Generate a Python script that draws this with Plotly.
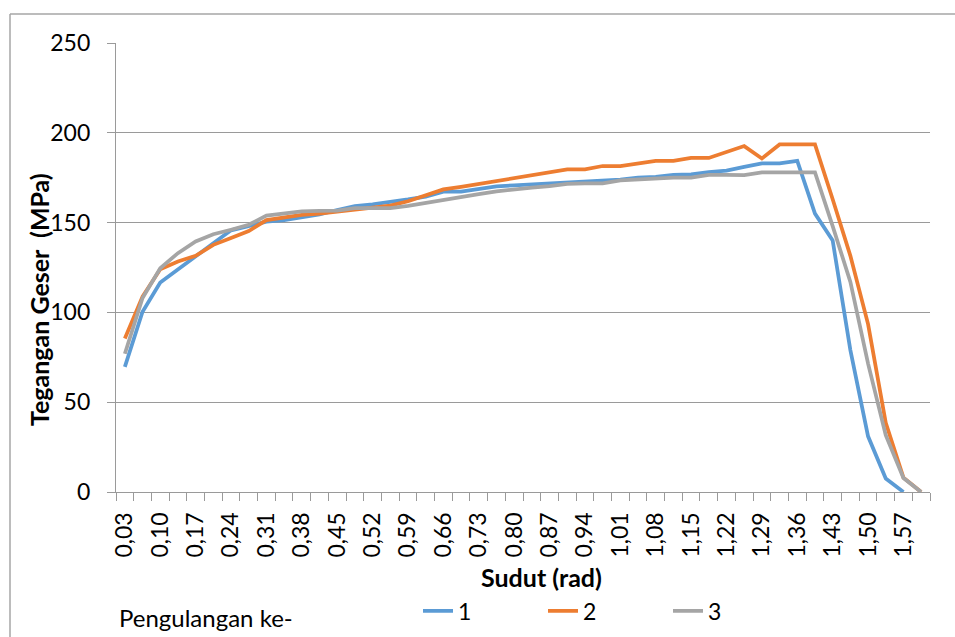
import plotly.graph_objects as go

categories = ["0,03","0,07","0,10","0,14","0,17","0,21","0,24","0,28","0,31","0,35",
              "0,38","0,42","0,45","0,49","0,52","0,56","0,59","0,63","0,66","0,70",
              "0,73","0,77","0,80","0,84","0,87","0,91","0,94","0,98","1,01","1,05",
              "1,08","1,12","1,15","1,19","1,22","1,26","1,29","1,33","1,36","1,40",
              "1,43","1,47","1,50","1,54","1,57","1,61"]

series_1 = [69.7, 100.4, 116.6, 123.7, 131.0, 138.5, 145.7, 148.3, 150.5, 151.4,
            153.0, 154.6, 157.0, 159.2, 160.2, 161.4, 162.9, 164.5, 167.2, 167.2,
            168.8, 170.2, 170.7, 171.2, 171.7, 172.2, 172.6, 173.5, 174.0, 175.1,
            175.5, 176.6, 176.8, 178.1, 179.0, 181.0, 183.0, 183.0, 184.4, 155.0,
            140.0, 79.0, 31.0, 7.5, 0.0, None]
series_2 = [85.5, 108.8, 124.0, 128.3, 131.5, 137.6, 141.4, 145.3, 151.4, 152.8,
            154.3, 155.0, 156.0, 157.2, 158.2, 159.5, 161.9, 165.2, 168.5, 169.9,
            171.5, 173.1, 174.8, 176.3, 178.0, 179.6, 179.6, 181.5, 181.5, 183.0,
            184.4, 184.4, 186.0, 186.0, 189.2, 192.6, 185.7, 193.5, 193.5, 193.5,
            163.0, 131.5, 93.5, 38.5, 8.0, 0.0]
series_3 = [77.0, 108.0, 124.6, 133.0, 139.5, 143.5, 146.0, 148.8, 153.9, 155.3,
            156.3, 156.5, 156.7, 158.0, 158.0, 158.0, 159.3, 160.8, 162.6, 164.1,
            165.8, 167.4, 168.6, 169.5, 170.3, 171.6, 171.8, 171.8, 173.5, 174.0,
            174.9, 175.0, 175.0, 176.6, 176.6, 176.4, 178.0, 178.0, 178.0, 178.0,
            148.0, 117.0, 71.5, 31.6, 7.8, 0.0]

series_names = ["1", "2", "3"]
series_colors = ["#5B9BD5", "#ED7D31", "#A5A5A5"]
y_ticks = [0, 50, 100, 150, 200, 250]

FONT = "Lato"
GRID = "#9a9a9a"

x_idx = list(range(len(categories)))

fig = go.Figure()
for name, vals, col in zip(series_names, [series_1, series_2, series_3], series_colors):
    fig.add_trace(go.Scatter(
        x=x_idx, y=vals, name=name, mode="lines",
        line=dict(color=col, width=3.75),
        connectgaps=False,
    ))

# body margin is removed in the page, so figure pixels == page pixels
W, H = 955, 637
ML, MT = 116, 43
MR = W - 930
MB = H - 492
pw = W - ML - MR
ph = H - MT - MB

def px_x(px):
    return (px - ML) / pw

def px_y(py):
    return (H - MB - py) / ph

fig.update_layout(
    width=W, height=H,
    margin=dict(l=ML, r=MR, t=MT, b=MB, pad=0, autoexpand=False),
    paper_bgcolor="white", plot_bgcolor="white",
    font=dict(family=FONT, color="#000000"),
    showlegend=True,
    legend=dict(
        orientation="h",
        x=px_x(418), xanchor="left",
        y=px_y(611), yanchor="middle",
        font=dict(family=FONT, size=23, color="#000000"),
        entrywidth=80, entrywidthmode="pixels",
        bgcolor="rgba(0,0,0,0)",
        itemclick=False,
    ),
    xaxis=dict(
        range=[-0.5, len(categories) - 0.5],
        tickmode="array",
        tickvals=x_idx[::2],
        ticktext=categories[::2],
        tickangle=-90,
        ticks="outside", ticklen=8, tickcolor="rgba(0,0,0,0)",
        tickfont=dict(family=FONT, size=23, color="#000000"),
        ticklabelstandoff=2,
        showgrid=False,
        showline=True, linecolor=GRID, linewidth=1.3,
        zeroline=False,
        automargin=False,
        minor=dict(
            tickmode="array",
            tickvals=[i - 0.5 for i in range(len(categories) + 1)],
            ticks="outside", ticklen=8, tickcolor=GRID, tickwidth=1.3,
            showgrid=False,
        ),
    ),
    yaxis=dict(
        range=[0, 250],
        tickmode="array", tickvals=y_ticks,
        ticks="outside", ticklen=8, tickcolor=GRID, tickwidth=1.3,
        tickfont=dict(family=FONT, size=23, color="#000000"),
        ticklabelstandoff=12,
        showgrid=True, gridcolor=GRID, gridwidth=1.3,
        showline=True, linecolor=GRID, linewidth=1.3,
        zeroline=False,
        automargin=False,
    ),
    annotations=[
        dict(text="<b>Tegangan Geser  (MPa)</b>", xref="paper", yref="paper",
             x=px_x(39), y=px_y(300), xanchor="center", yanchor="middle",
             textangle=-90, showarrow=False,
             font=dict(family=FONT, size=25, color="#000000")),
        dict(text="<b>Sudut (rad)</b>", xref="paper", yref="paper",
             x=px_x(541.5), y=px_y(577), xanchor="center", yanchor="middle",
             showarrow=False, font=dict(family=FONT, size=25, color="#000000")),
        dict(text="Pengulangan ke-", xref="paper", yref="paper",
             x=px_x(117), y=px_y(617), xanchor="left", yanchor="middle",
             showarrow=False, font=dict(family=FONT, size=24, color="#000000")),
    ],
    shapes=[
        dict(type="line", xref="paper", yref="paper",
             x0=px_x(10), x1=px_x(10), y0=px_y(14), y1=px_y(640),
             line=dict(color="#a6a6a6", width=1.5), layer="below"),
        dict(type="line", xref="paper", yref="paper",
             x0=px_x(10), x1=px_x(958), y0=px_y(14), y1=px_y(14),
             line=dict(color="#a6a6a6", width=1.5), layer="below"),
    ],
)

fig.write_html("out.html", config={"displayModeBar": False},
               post_script="document.body.style.margin='0px';")
